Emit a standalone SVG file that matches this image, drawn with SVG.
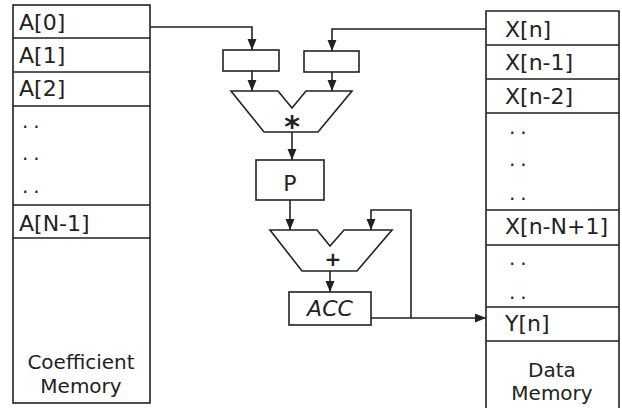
<svg xmlns="http://www.w3.org/2000/svg" width="622" height="408" viewBox="0 0 622 408">
<defs>
<marker id="ah" markerUnits="userSpaceOnUse" markerWidth="12" markerHeight="10" refX="11" refY="4.5" orient="auto">
<path d="M0,0 L11,4.5 L0,9 z" fill="#222"/>
</marker>
<style>
.box{fill:none;stroke:#222;stroke-width:1.6}
.ln{fill:none;stroke:#222;stroke-width:1.6}
.wire{fill:none;stroke:#222;stroke-width:1.6;marker-end:url(#ah)}
.lbl{font-family:"DejaVu Sans",sans-serif;font-size:22px;fill:#222}
.dots{font-family:"DejaVu Sans",sans-serif;font-size:20px;fill:#222;letter-spacing:5px}
.cap{font-family:"DejaVu Sans",sans-serif;font-size:20px;fill:#222;text-anchor:middle}
.op{font-family:"DejaVu Sans",sans-serif;font-weight:bold;fill:#222;text-anchor:middle}
</style>
</defs>
<rect width="622" height="408" fill="#fff"/>
<g id="coefficient-memory">
<rect class="box" x="13" y="5" width="137" height="398"/>
<path class="ln" d="M13,38H150M13,72H150M13,106H150M13,205H150M13,238H150"/>
<text class="lbl" x="19" y="30">A[0]</text>
<text class="lbl" x="19" y="63">A[1]</text>
<text class="lbl" x="19" y="96">A[2]</text>
<text class="dots" x="22" y="128">..</text>
<text class="dots" x="22" y="160">..</text>
<text class="dots" x="22" y="193">..</text>
<text class="lbl" x="19" y="231">A[N-1]</text>
<text class="cap" x="81" y="369">Coefficient</text>
<text class="cap" x="81" y="393">Memory</text>
</g>
<g id="data-memory">
<path class="box" d="M486,412V11H619V412"/>
<path class="ln" d="M486,45H619M486,79H619M486,113H619M486,210H619M486,245H619M486,307H619M486,341H619"/>
<text class="lbl" x="505" y="37">X[n]</text>
<text class="lbl" x="505" y="70">X[n-1]</text>
<text class="lbl" x="505" y="104">X[n-2]</text>
<text class="dots" x="509" y="134">..</text>
<text class="dots" x="509" y="166">..</text>
<text class="dots" x="509" y="200">..</text>
<text class="lbl" x="505" y="234">X[n-N+1]</text>
<text class="dots" x="509" y="265">..</text>
<text class="dots" x="509" y="299">..</text>
<text class="lbl" x="505" y="331">Y[n]</text>
<text class="cap" x="552" y="377">Data</text>
<text class="cap" x="552" y="400">Memory</text>
</g>
<g id="reg-a">
<rect class="box" x="223" y="50" width="56" height="21"/>
</g>
<g id="reg-x">
<rect class="box" x="304" y="51" width="55" height="21"/>
</g>
<g id="multiplier">
<path class="box" d="M231,91H278L292,108L306,91H352L318,132H264Z"/>
<text class="op" x="292" y="137" font-size="30">*</text>
</g>
<g id="p-reg">
<rect class="box" x="256" y="160" width="68" height="40"/>
<text class="lbl" x="290" y="191" font-size="22" text-anchor="middle">P</text>
</g>
<g id="adder">
<path class="box" d="M270,230H317L330,246L344,230H392L357,271H302Z"/>
<text class="op" x="333" y="266" font-size="20">+</text>
</g>
<g id="acc">
<rect class="box" x="289" y="292" width="82" height="33"/>
<text class="lbl" x="330" y="316" font-size="20" font-style="italic" text-anchor="middle">ACC</text>
</g>
<g id="connectors">
<path class="wire" d="M150,27H252V50"/>
<path class="wire" d="M486,29H332V51"/>
<path class="wire" d="M252,71V91"/>
<path class="wire" d="M332,72V91"/>
<path class="wire" d="M292,132V160"/>
<path class="wire" d="M290,200V230"/>
<path class="wire" d="M330,271V292"/>
<path class="wire" d="M371,318H411V210H371V230"/>
<path class="wire" d="M411,318H486"/>
</g>
</svg>
